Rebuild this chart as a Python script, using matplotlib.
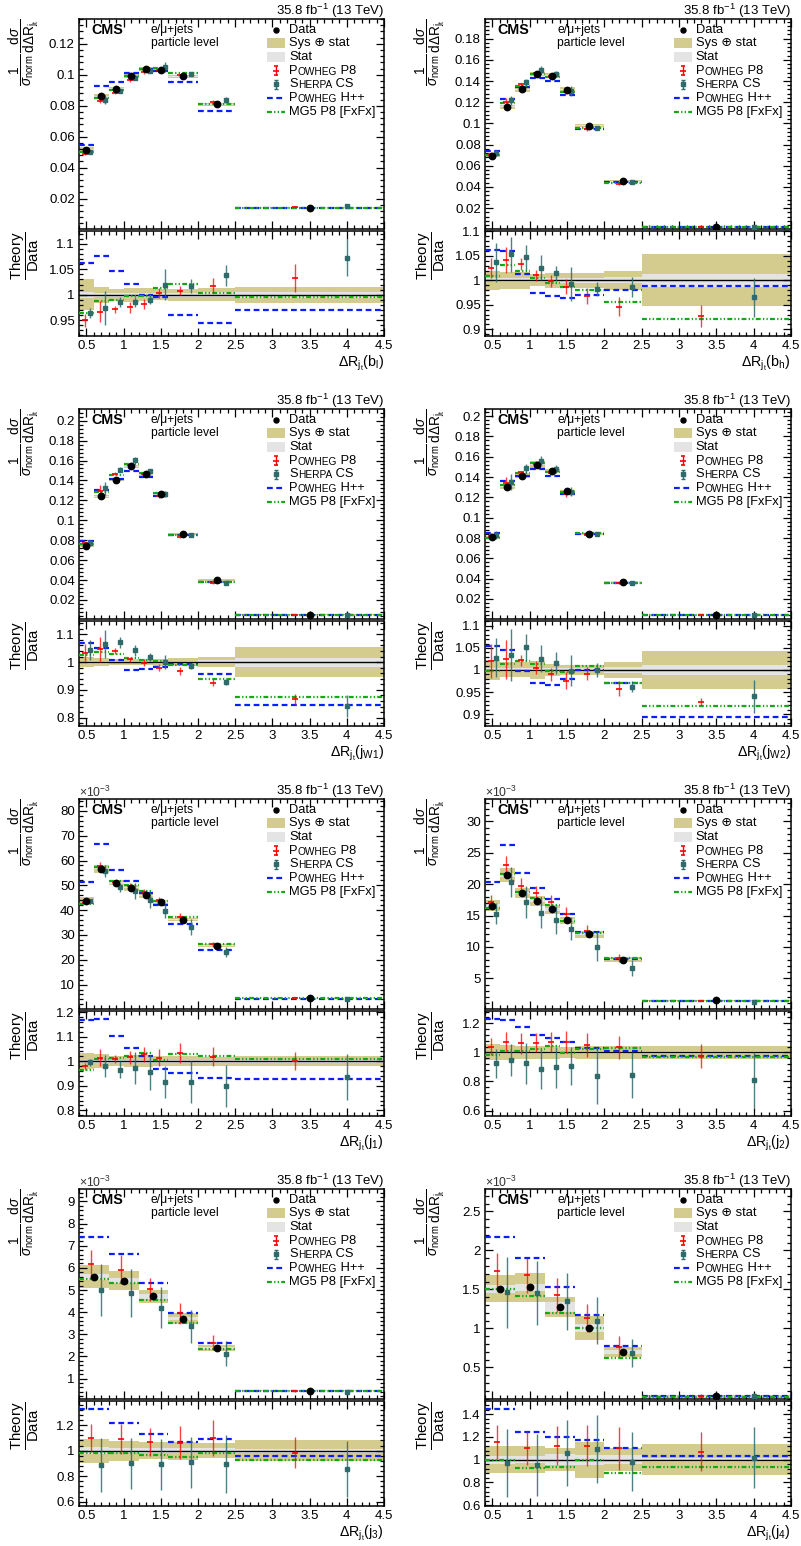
import numpy as np
import matplotlib
matplotlib.use('Agg')
import matplotlib.pyplot as plt
from matplotlib.patches import Rectangle
from matplotlib.ticker import MultipleLocator, FuncFormatter

plt.rcParams['font.family'] = ['Liberation Sans', 'DejaVu Sans']
plt.rcParams['mathtext.fontset'] = 'custom'
plt.rcParams['mathtext.rm'] = 'Liberation Sans'
plt.rcParams['mathtext.it'] = 'Liberation Sans:italic'
plt.rcParams['mathtext.bf'] = 'Liberation Sans:bold'
plt.rcParams['mathtext.sf'] = 'Liberation Sans'

# ---------------- binning ----------------
edges9 = [0.4, 0.6, 0.8, 1.0, 1.2, 1.4, 1.6, 2.0, 2.5, 4.5]
edges6 = [0.4, 0.8, 1.2, 1.6, 2.0, 2.5, 4.5]

# ---------------- panel 1: b_l ----------------
bl_data = [0.0517, 0.0862, 0.0909, 0.0991, 0.1036, 0.1028, 0.0989, 0.0808, 0.0142]
bl_tot = [0.030, 0.016, 0.012, 0.014, 0.013, 0.011, 0.012, 0.013, 0.016]
bl_stat = [0.006, 0.004, 0.004, 0.004, 0.004, 0.004, 0.004, 0.005, 0.006]
bl_p8 = [0.950, 0.967, 0.971, 0.975, 0.981, 1.003, 1.008, 1.018, 1.033]
bl_p8e = [0.013, 0.020, 0.007, 0.010, 0.010, 0.010, 0.009, 0.015, 0.027]
bl_sh = [0.964, 0.974, 0.986, 0.985, 0.990, 1.020, 1.017, 1.038, 1.073]
bl_she = [0.010, 0.033, 0.010, 0.010, 0.008, 0.030, 0.013, 0.020, 0.037]
bl_hpp = [1.063, 1.075, 1.047, 1.022, 0.999, 0.995, 0.961, 0.944, 0.970]
bl_mg5 = [0.964, 0.988, 0.989, 0.998, 0.998, 1.013, 1.021, 1.004, 0.995]

# ---------------- panel 2: b_h ----------------
bh_data = [0.0694, 0.1157, 0.1324, 0.1463, 0.1450, 0.1318, 0.0978, 0.0452, 0.0023]
bh_tot = [0.020, 0.018, 0.018, 0.012, 0.015, 0.016, 0.015, 0.020, 0.053]
bh_stat = [0.004, 0.004, 0.004, 0.004, 0.004, 0.005, 0.005, 0.006, 0.013]
bh_p8 = [1.025, 1.042, 1.033, 1.010, 0.999, 0.987, 0.968, 0.946, 0.927]
bh_p8e = [0.020, 0.027, 0.012, 0.012, 0.012, 0.015, 0.017, 0.020, 0.023]
bh_sh = [1.037, 1.053, 1.047, 1.026, 1.014, 0.992, 0.982, 0.986, 0.965]
bh_she = [0.040, 0.035, 0.025, 0.025, 0.015, 0.035, 0.015, 0.020, 0.040]
bh_hpp = [1.062, 1.060, 1.012, 0.975, 0.967, 0.963, 0.969, 0.981, 0.989]
bh_mg5 = [1.009, 1.031, 1.020, 1.004, 0.995, 0.986, 0.980, 0.956, 0.920]

# ---------------- panel 3: j_W1 ----------------
w1_data = [0.0742, 0.1240, 0.1408, 0.1542, 0.1465, 0.1264, 0.0862, 0.0400, 0.0053]
w1_tot = [0.018, 0.014, 0.010, 0.010, 0.012, 0.013, 0.015, 0.018, 0.055]
w1_stat = [0.005, 0.005, 0.004, 0.004, 0.004, 0.005, 0.005, 0.007, 0.016]
w1_p8 = [1.034, 1.046, 1.041, 1.010, 0.998, 0.980, 0.968, 0.926, 0.866]
w1_p8e = [0.030, 0.045, 0.010, 0.010, 0.012, 0.012, 0.015, 0.013, 0.020]
w1_sh = [1.043, 1.064, 1.071, 1.042, 1.018, 1.001, 0.986, 0.929, 0.842]
w1_she = [0.035, 0.050, 0.020, 0.020, 0.015, 0.025, 0.012, 0.012, 0.040]
w1_hpp = [1.070, 1.050, 1.007, 0.971, 0.976, 0.982, 0.992, 0.956, 0.844]
w1_mg5 = [1.025, 1.037, 1.030, 1.016, 1.006, 1.004, 0.989, 0.939, 0.873]

# ---------------- panel 4: j_W2 ----------------
w2_data = [0.0806, 0.1306, 0.1414, 0.1523, 0.1457, 0.1260, 0.0839, 0.0371, 0.0043]
w2_tot = [0.022, 0.017, 0.017, 0.020, 0.014, 0.012, 0.012, 0.018, 0.042]
w2_stat = [0.005, 0.005, 0.004, 0.004, 0.004, 0.004, 0.005, 0.006, 0.012]
w2_p8 = [1.020, 1.024, 1.022, 1.005, 0.990, 0.976, 0.992, 0.957, 0.928]
w2_p8e = [0.038, 0.045, 0.013, 0.015, 0.015, 0.020, 0.015, 0.017, 0.008]
w2_sh = [1.028, 1.034, 1.051, 1.026, 1.015, 0.998, 1.000, 0.962, 0.940]
w2_she = [0.045, 0.060, 0.030, 0.030, 0.025, 0.035, 0.015, 0.013, 0.037]
w2_hpp = [1.054, 1.045, 0.998, 0.971, 0.966, 0.979, 1.000, 0.971, 0.893]
w2_mg5 = [0.998, 1.013, 1.020, 1.013, 0.998, 0.996, 1.010, 0.971, 0.919]

# ---------------- panel 5: j_1 ----------------
j1_data = [43.85e-3, 56.75e-3, 50.97e-3, 49.10e-3, 46.00e-3, 43.30e-3, 36.20e-3, 25.70e-3, 4.60e-3]
j1_tot = [0.033, 0.028, 0.020, 0.025, 0.025, 0.020, 0.020, 0.018, 0.020]
j1_stat = [0.006, 0.006, 0.006, 0.006, 0.006, 0.006, 0.006, 0.006, 0.006]
j1_p8 = [0.980, 1.015, 1.010, 1.016, 1.029, 1.015, 1.034, 1.019, 1.001]
j1_p8e = [0.015, 0.035, 0.015, 0.025, 0.030, 0.035, 0.040, 0.040, 0.035]
j1_sh = [0.996, 0.982, 0.966, 0.971, 0.955, 0.916, 0.917, 0.900, 0.936]
j1_she = [0.015, 0.045, 0.035, 0.065, 0.070, 0.065, 0.085, 0.085, 0.095]
j1_hpp = [1.169, 1.173, 1.103, 1.054, 1.023, 0.969, 0.952, 0.930, 0.928]
j1_mg5 = [0.966, 1.011, 1.012, 1.023, 1.035, 1.005, 1.030, 1.022, 1.011]

# ---------------- panel 6: j_2 ----------------
j2_data = [16.57e-3, 21.45e-3, 18.59e-3, 17.37e-3, 15.99e-3, 14.24e-3, 12.00e-3, 7.97e-3, 1.50e-3]
j2_tot = [0.055, 0.050, 0.045, 0.045, 0.045, 0.040, 0.045, 0.045, 0.045]
j2_stat = [0.012, 0.012, 0.012, 0.012, 0.012, 0.012, 0.012, 0.012, 0.012]
j2_p8 = [1.039, 1.071, 1.062, 1.066, 1.073, 1.069, 1.050, 1.034, 0.975]
j2_p8e = [0.060, 0.070, 0.070, 0.065, 0.070, 0.075, 0.080, 0.080, 0.080]
j2_sh = [0.924, 0.947, 0.924, 0.885, 0.897, 0.906, 0.837, 0.844, 0.810]
j2_she = [0.100, 0.110, 0.140, 0.140, 0.140, 0.130, 0.190, 0.160, 0.190]
j2_hpp = [1.227, 1.222, 1.172, 1.119, 1.098, 1.069, 1.027, 1.009, 0.973]
j2_mg5 = [0.982, 1.009, 1.009, 1.020, 1.043, 0.998, 1.020, 1.032, 0.966]

# ---------------- panel 7: j_3 ----------------
j3_data = [5.60e-3, 5.42e-3, 4.71e-3, 3.71e-3, 2.38e-3, 0.46e-3]
j3_tot = [0.094, 0.077, 0.065, 0.070, 0.060, 0.080]
j3_stat = [0.025, 0.020, 0.020, 0.020, 0.020, 0.015]
j3_p8 = [1.102, 1.091, 1.070, 1.063, 1.102, 0.984]
j3_p8e = [0.110, 0.120, 0.110, 0.130, 0.140, 0.120]
j3_sh = [0.890, 0.900, 0.893, 0.909, 0.896, 0.857]
j3_she = [0.210, 0.200, 0.200, 0.200, 0.230, 0.220]
j3_hpp = [1.324, 1.219, 1.130, 1.070, 1.089, 0.961]
j3_mg5 = [0.984, 0.984, 0.966, 0.950, 0.984, 0.924]

# ---------------- panel 8: j_4 ----------------
j4_data = [1.508e-3, 1.525e-3, 1.273e-3, 1.004e-3, 0.696e-3, 0.128e-3]
j4_tot = [0.117, 0.120, 0.100, 0.158, 0.100, 0.137]
j4_stat = [0.035, 0.030, 0.050, 0.045, 0.040, 0.018]
j4_p8 = [1.152, 1.100, 1.123, 1.123, 1.100, 1.070]
j4_p8e = [0.150, 0.150, 0.170, 0.180, 0.190, 0.170]
j4_sh = [0.968, 0.953, 1.056, 1.094, 0.982, 1.018]
j4_she = [0.300, 0.270, 0.290, 0.300, 0.260, 0.270]
j4_hpp = [1.442, 1.243, 1.202, 1.170, 1.105, 1.032]
j4_mg5 = [1.000, 0.924, 0.935, 0.994, 0.886, 0.935]

xlabels = [r'$\Delta\mathrm{R}_{\mathrm{j}_{\mathrm{t}}}(\mathrm{b}_{\mathrm{l}})$',
           r'$\Delta\mathrm{R}_{\mathrm{j}_{\mathrm{t}}}(\mathrm{b}_{\mathrm{h}})$',
           r'$\Delta\mathrm{R}_{\mathrm{j}_{\mathrm{t}}}(\mathrm{j}_{\mathrm{W1}})$',
           r'$\Delta\mathrm{R}_{\mathrm{j}_{\mathrm{t}}}(\mathrm{j}_{\mathrm{W2}})$',
           r'$\Delta\mathrm{R}_{\mathrm{j}_{\mathrm{t}}}(\mathrm{j}_{\mathrm{1}})$',
           r'$\Delta\mathrm{R}_{\mathrm{j}_{\mathrm{t}}}(\mathrm{j}_{\mathrm{2}})$',
           r'$\Delta\mathrm{R}_{\mathrm{j}_{\mathrm{t}}}(\mathrm{j}_{\mathrm{3}})$',
           r'$\Delta\mathrm{R}_{\mathrm{j}_{\mathrm{t}}}(\mathrm{j}_{\mathrm{4}})$']

panels = [
    dict(edges=edges9, scale=1.0, data=bl_data, tot=bl_tot, stat=bl_stat, p8=bl_p8, p8e=bl_p8e, sh=bl_sh, she=bl_she, hpp=bl_hpp, mg5=bl_mg5,
         ylim=(0.0004, 0.136), maj=0.02, mnr=0.004, rylim=(0.919, 1.125), rmaj=0.05, rmnr=0.01),
    dict(edges=edges9, scale=1.0, data=bh_data, tot=bh_tot, stat=bh_stat, p8=bh_p8, p8e=bh_p8e, sh=bh_sh, she=bh_she, hpp=bh_hpp, mg5=bh_mg5,
         ylim=(0.0002, 0.1986), maj=0.02, mnr=0.004, rylim=(0.886, 1.101), rmaj=0.05, rmnr=0.01),
    dict(edges=edges9, scale=1.0, data=w1_data, tot=w1_tot, stat=w1_stat, p8=w1_p8, p8e=w1_p8e, sh=w1_sh, she=w1_she, hpp=w1_hpp, mg5=w1_mg5,
         ylim=(0.0009, 0.2117), maj=0.02, mnr=0.004, rylim=(0.770, 1.148), rmaj=0.1, rmnr=0.02),
    dict(edges=edges9, scale=1.0, data=w2_data, tot=w2_tot, stat=w2_stat, p8=w2_p8, p8e=w2_p8e, sh=w2_sh, she=w2_she, hpp=w2_hpp, mg5=w2_mg5,
         ylim=(0.0003, 0.207), maj=0.02, mnr=0.004, rylim=(0.873, 1.111), rmaj=0.05, rmnr=0.01),
    dict(edges=edges9, scale=1e-3, data=j1_data, tot=j1_tot, stat=j1_stat, p8=j1_p8, p8e=j1_p8e, sh=j1_sh, she=j1_she, hpp=j1_hpp, mg5=j1_mg5,
         ylim=(0.15, 84.8), maj=10, mnr=2, rylim=(0.777, 1.205), rmaj=0.1, rmnr=0.02),
    dict(edges=edges9, scale=1e-3, data=j2_data, tot=j2_tot, stat=j2_stat, p8=j2_p8, p8e=j2_p8e, sh=j2_sh, she=j2_she, hpp=j2_hpp, mg5=j2_mg5,
         ylim=(0.12, 33.56), maj=5, mnr=1, rylim=(0.563, 1.284), rmaj=0.2, rmnr=0.04),
    dict(edges=edges6, scale=1e-3, data=j3_data, tot=j3_tot, stat=j3_stat, p8=j3_p8, p8e=j3_p8e, sh=j3_sh, she=j3_she, hpp=j3_hpp, mg5=j3_mg5,
         ylim=(0.08, 9.56), maj=1, mnr=0.2, rylim=(0.567, 1.389), rmaj=0.2, rmnr=0.04),
    dict(edges=edges6, scale=1e-3, data=j4_data, tot=j4_tot, stat=j4_stat, p8=j4_p8, p8e=j4_p8e, sh=j4_sh, she=j4_she, hpp=j4_hpp, mg5=j4_mg5,
         ylim=(0.094, 2.786), maj=0.5, mnr=0.1, rylim=(0.593, 1.516), rmaj=0.2, rmnr=0.04),
]

KHAKI = '#d4cc8e'
GRAY = '#e4e4e4'
RED = '#ff0000'
TEAL = '#2f6b6b'
BLUE = '#0a1eff'
GREEN = '#15a815'
DASH_BLUE = (0, (2.6, 1.6))
DASH_GREEN = (0, (2.2, 1.0, 0.6, 1.0, 0.6, 1.0))

W, H = 801, 1546
fig = plt.figure(figsize=(W / 100, H / 100), dpi=100)
cols = [(79, 384), (485, 791)]
row_tops = [19, 409, 799, 1189]
MAIN_H, RATIO_TOP, RATIO_BOT = 210, 212, 317
FS = 9.5
fmt = FuncFormatter(lambda v, p: '%g' % round(v, 6))


def style_axis(ax, xmaj, xmnr, ymaj, ymnr):
    ax.set_xlim(0.4, 4.5)
    ax.xaxis.set_major_locator(MultipleLocator(xmaj))
    ax.xaxis.set_minor_locator(MultipleLocator(xmnr))
    ax.yaxis.set_major_locator(MultipleLocator(ymaj))
    ax.yaxis.set_minor_locator(MultipleLocator(ymnr))
    ax.yaxis.set_major_formatter(fmt)
    ax.xaxis.set_major_formatter(fmt)
    ax.tick_params(which='both', direction='in', top=True, right=True, labelsize=FS, width=0.9)
    ax.tick_params(which='major', length=5.5, pad=3)
    ax.tick_params(which='minor', length=2.8)
    for s in ax.spines.values():
        s.set_linewidth(1.1)


def smallcaps_text(ax, x, y, parts, fs):
    t = ax.text(x, y, parts[0][0], transform=ax.transAxes, fontsize=fs, va='center', ha='left')
    for txt, small in parts[1:]:
        t = ax.annotate(txt, xy=(1, 0), xycoords=t, fontsize=fs * 0.78 if small else fs,
                        va='bottom', ha='left')


def legend(ax):
    hx, hw, tx = 0.647, 0.06, 0.689
    ys = [0.949 - k * 0.0652 for k in range(7)]
    lf = 9.3
    tr = ax.transAxes
    ax.plot([hx], [ys[0]], 'o', color='k', ms=3.6, transform=tr, clip_on=False)
    ax.text(tx, ys[0], 'Data', transform=tr, fontsize=lf, va='center')
    ax.add_patch(Rectangle((hx - hw / 2, ys[1] - 0.024), hw, 0.048, transform=tr, fc=KHAKI, ec='none'))
    ax.text(tx, ys[1], 'Sys \u2295 stat', transform=tr, fontsize=lf, va='center')
    ax.add_patch(Rectangle((hx - hw / 2, ys[2] - 0.024), hw, 0.048, transform=tr, fc=GRAY, ec='none'))
    ax.text(tx, ys[2], 'Stat', transform=tr, fontsize=lf, va='center')
    ax.errorbar([hx], [ys[3]], yerr=[0.022], fmt='_', color=RED, ms=4, mew=1.2, elinewidth=1.0,
                capsize=1.5, transform=tr, clip_on=False)
    smallcaps_text(ax, tx, ys[3], [('P', False), ('OWHEG', True), (' P8', False)], lf)
    ax.errorbar([hx], [ys[4]], yerr=[0.022], fmt='s', color=TEAL, ms=3.2, elinewidth=1.0,
                capsize=1.5, transform=tr, clip_on=False)
    smallcaps_text(ax, tx, ys[4], [('S', False), ('HERPA', True), (' CS', False)], lf)
    ax.plot([hx - hw / 2, hx + hw / 2], [ys[5]] * 2, color=BLUE, lw=1.6, ls=DASH_BLUE, transform=tr)
    smallcaps_text(ax, tx, ys[5], [('P', False), ('OWHEG', True), (' H++', False)], lf)
    ax.plot([hx - hw / 2, hx + hw / 2], [ys[6]] * 2, color=GREEN, lw=1.6, ls=DASH_GREEN, transform=tr)
    ax.text(tx, ys[6], 'MG5 P8 [FxFx]', transform=tr, fontsize=lf, va='center')


for i, p in enumerate(panels):
    r, c = divmod(i, 2)
    x0, x1 = cols[c]
    top = row_tops[r]
    axm = fig.add_axes([x0 / W, 1 - (top + MAIN_H) / H, (x1 - x0) / W, MAIN_H / H])
    axr = fig.add_axes([x0 / W, 1 - (top + RATIO_BOT) / H, (x1 - x0) / W, (RATIO_BOT - RATIO_TOP) / H])

    edges = np.array(p['edges'])
    lo, hi = edges[:-1], edges[1:]
    wd = hi - lo
    ctr = lo + 0.5 * wd
    xp8 = lo + 0.4 * wd
    xsh = lo + 0.75 * wd
    d = np.array(p['data']) / p['scale']
    tot = np.array(p['tot']); stat = np.array(p['stat'])
    p8 = np.array(p['p8']); p8e = np.array(p['p8e'])
    sh = np.array(p['sh']); she = np.array(p['she'])
    hpp = np.array(p['hpp']); mg5 = np.array(p['mg5'])

    for ax, base in ((axm, d), (axr, np.ones_like(d))):
        for j in range(len(d)):
            ax.add_patch(Rectangle((lo[j], base[j] * (1 - tot[j])), wd[j], base[j] * 2 * tot[j],
                                   fc=KHAKI, ec='none', zorder=1))
            ax.add_patch(Rectangle((lo[j], base[j] * (1 - stat[j])), wd[j], base[j] * 2 * stat[j],
                                   fc=GRAY, ec='none', zorder=1.5))
        if ax is axr:
            ax.axhline(1.0, color='k', lw=1.0, zorder=2)
        ax.hlines(base * hpp, lo, hi, colors=BLUE, linestyles=DASH_BLUE, lw=1.6, zorder=3)
        ax.hlines(base * mg5, lo, hi, colors=GREEN, linestyles=DASH_GREEN, lw=1.6, zorder=3.1)
        ax.errorbar(xp8, base * p8, yerr=base * p8e, fmt='_', color=RED, ms=4, mew=1.2,
                    elinewidth=1.0, ecolor=(1, 0, 0, 0.75), capsize=0, zorder=4)
        ax.errorbar(xsh, base * sh, yerr=base * she, fmt='s', color=TEAL, ms=3.4,
                    elinewidth=1.0, ecolor=(0.18, 0.42, 0.42, 0.85), capsize=0, zorder=4.1)
    axm.plot(ctr, d, 'o', color='k', ms=4.6, zorder=5)

    style_axis(axm, 0.5, 0.1, p['maj'], p['mnr'])
    style_axis(axr, 0.5, 0.1, p['rmaj'], p['rmnr'])
    axm.set_ylim(*p['ylim'])
    axr.set_ylim(*p['rylim'])
    axm.tick_params(labelbottom=False)

    axm.set_ylabel(r'$\dfrac{1}{\sigma_{\mathrm{norm}}}\,\dfrac{\mathrm{d}\sigma}{\mathrm{d}\Delta\mathrm{R}_{\mathrm{j}_{\mathrm{t}}}}$',
                   fontsize=9.8, loc='top')
    axm.yaxis.set_label_coords(-0.125, 1.0)
    axr.set_ylabel(r'$\dfrac{\mathrm{Theory}}{\mathrm{Data}}$', fontsize=10.8, loc='top')
    axr.yaxis.set_label_coords(-0.125, 1.0)

    axr.text(1.0, -0.265, xlabels[i], transform=axr.transAxes, ha='right', va='center', fontsize=10.3)

    axm.text(0.039, 0.946, 'CMS', transform=axm.transAxes, fontsize=10.3, fontweight='bold', va='center')
    axm.text(0.236, 0.949, 'e/\u03bc+jets', transform=axm.transAxes, fontsize=8.7, va='center')
    axm.text(0.236, 0.886, 'particle level', transform=axm.transAxes, fontsize=8.7, va='center')
    axm.text(1.0, 1.038, r'35.8 fb$^{-1}$ (13 TeV)', transform=axm.transAxes, fontsize=9.5,
             ha='right', va='center')
    if p['scale'] != 1.0:
        axm.text(0.0, 1.03, r'$\times10^{-3}$', transform=axm.transAxes, fontsize=8.8,
                 ha='left', va='center', color='#333333')
    legend(axm)

fig.savefig('out.png', dpi=100)
